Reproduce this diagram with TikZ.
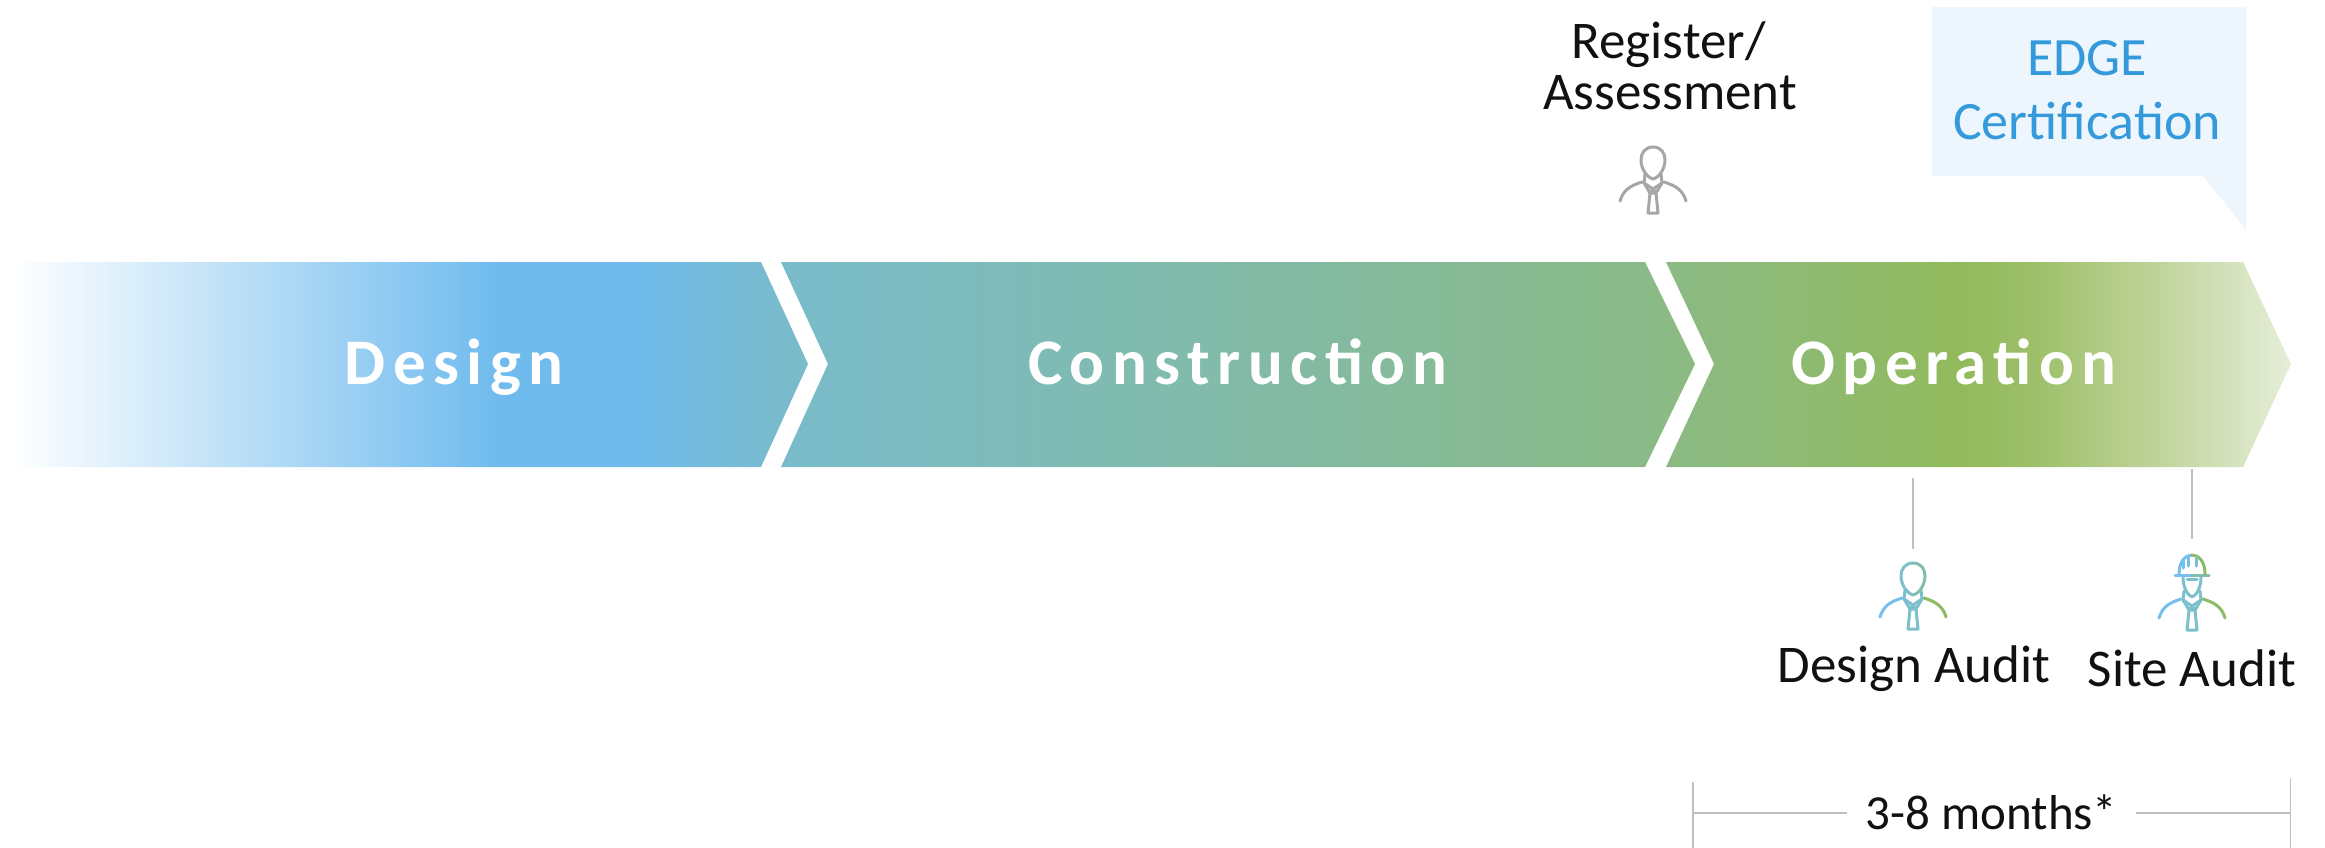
\documentclass[tikz,border=0pt]{standalone}
\usepackage{fontspec}
\setmainfont{Carlito}
\newfontfamily\bandfont[LetterSpace=11.5,Ligatures=Common]{Carlito}
\definecolor{calloutfill}{HTML}{EDF6FD}
\definecolor{calloutink}{HTML}{349ADB}
\definecolor{rulegray}{HTML}{BFBFBF}
\definecolor{inkc}{HTML}{111111}
\definecolor{iblue}{HTML}{74BFEE}
\definecolor{iteal}{HTML}{7CC0CC}
\definecolor{igreen}{HTML}{8CBB64}
\definecolor{igray}{HTML}{A6A6A6}
\definecolor{g0}{HTML}{FFFFFF}
\definecolor{g1}{HTML}{6FBBEE}
\definecolor{g2}{HTML}{7ABBC9}
\definecolor{g3}{HTML}{8ABA88}
\definecolor{g4}{HTML}{92BA5C}
\definecolor{g5}{HTML}{9CBF68}
\definecolor{g6}{HTML}{BDD296}
\definecolor{g7}{HTML}{E6EED8}
\pgfdeclarehorizontalshading{bandshade}{100bp}{
  color(0bp)=(g0);
  color(25bp)=(g0);
  color(35.76bp)=(g1);
  color(38.39bp)=(g1);
  color(42.33bp)=(g2);
  color(60.74bp)=(g3);
  color(67.75bp)=(g4);
  color(69.28bp)=(g5);
  color(71.9bp)=(g6);
  color(75bp)=(g7);
  color(100bp)=(g7)
}
\tikzset{
  bandlabel/.style={anchor=base,inner sep=0pt,text=white,font=\bandfont\bfseries\fontsize{65}{70}\selectfont},
  blacklabel/.style={anchor=base,inner sep=0pt,text=inkc,font=\fontsize{53}{60}\selectfont},
  durlabel/.style={anchor=center,inner sep=0pt,text=inkc,font=\fontsize{49}{60}\selectfont},
  bluelabel/.style={anchor=base,inner sep=0pt,text=calloutink,font=\fontsize{54}{60}\selectfont},
  rule/.style={draw=rulegray,line width=2.5pt},
  thinrule/.style={draw=rulegray,line width=1.6pt},
  iconline/.style={line width=3pt,line cap=round,line join=round}
}
% #1,#2 position of head top, #3 left colour, #4 middle colour, #5 right colour
\newcommand{\iconbody}[5]{%
  \begin{scope}[shift={(#1,#2)},iconline]
    \draw[#3] (-33,54) .. controls (-30,44) and (-24,39) .. (-11,35);
    \draw[#5] (33,54) .. controls (30,44) and (24,39) .. (11,35);
    \draw[#4] (-8,27) -- (-9,36) -- (-3,46) -- (0,42) -- (3,46) -- (9,36) -- (8,27);
    \draw[#4] (-3,46) -- (-5,66) -- (5,66) -- (3,46) -- cycle;
    \draw[#4] (-9,36) -- (0,42) -- (9,36);
  \end{scope}}
\newcommand{\iconhead}[5]{%
  \begin{scope}[shift={(#1,#2)},iconline]
    \draw[#3] (0,0) .. controls (-8,0) and (-12,6) .. (-12,13) .. controls (-12,21) and (-7,30) .. (0,32);
    \draw[#5] (0,0) .. controls (8,0) and (12,6) .. (12,13) .. controls (12,21) and (7,30) .. (0,32);
  \end{scope}}
\begin{document}
\begin{tikzpicture}[x=1pt,y=-1pt]
\useasboundingbox (0,0) rectangle (2325,848);
% callout
\fill[calloutfill] (1932,7) -- (2246,7) -- (2246,230) -- (2203,176) -- (1932,176) -- cycle;
\node[bluelabel] (edge) at (2087,75.5) {EDGE};
\node[bluelabel] (cert) at (2087,139.5) {Certification};
% top labels
\node[blacklabel] (reg) at (1668.5,59) {Register/};
\node[blacklabel] (ass) at (1670,110) {Assessment};
% band
\shade[shading=bandshade]
  (9,262) -- (761,262) -- (808,364) -- (761,467) -- (9,467) -- cycle
  (781,262) -- (1645,262) -- (1695,364) -- (1645,467) -- (781,467) -- (828,364) -- cycle
  (1666,262) -- (2243,262) -- (2291,364) -- (2243,467) -- (1666,467) -- (1714,364) -- cycle;
\node[bandlabel] (design) at (454,384) {Design};
\node[bandlabel] (constr) at (1238,384) {Construction};
\node[bandlabel] (oper) at (1954,384) {Operation};
% icons
\iconbody{1653}{147}{igray}{igray}{igray}
\iconhead{1653}{147}{igray}{igray}{igray}
\iconbody{1913}{563}{iblue}{iteal}{igreen}
\iconhead{1913}{563}{iteal}{iteal}{iteal!70!igreen}
\iconbody{2192}{564}{iblue}{iteal}{igreen}
\begin{scope}[shift={(2192,554)},iconline]
  \draw[iteal] (-9,23) .. controls (-9,33) and (-5,41) .. (0,43) .. controls (5,41) and (9,33) .. (9,23);
  \draw[iblue] (-17,21) -- (0,21);
  \draw[iteal!70!igreen] (0,21) -- (17,21);
  \draw[iblue] (-13,20) .. controls (-13,8) and (-7,1) .. (0,1);
  \draw[igreen] (13,20) .. controls (13,8) and (7,1) .. (0,1);
  \draw[iblue] (-4,3) -- (-4,12);
  \draw[iblue] (-9,6) -- (-9,14);
  \draw[iteal] (4,3) -- (4,12);
  \draw[iteal] (-5,25) -- (5,25);
\end{scope}
% audit labels
\node[blacklabel] (da) at (1914,682) {Design Audit};
\node[blacklabel] (sa) at (2192,686) {Site Audit};
% connectors
\coordinate (v1a) at (1913,478);
\coordinate (v1b) at (1913,549);
\coordinate (v2a) at (2192,469);
\coordinate (v2b) at (2192,539);
\draw[rule] (v1a) -- (v1b);
\draw[rule] (v2a) -- (v2b);
% duration
\coordinate (la) at (1693,782);
\coordinate (lb) at (1693,848);
\coordinate (ra) at (2290.5,778);
\coordinate (rb) at (2290.5,848);
\draw[thinrule] (la) -- (lb);
\draw[thinrule] (ra) -- (rb);
\node[durlabel,minimum width=289pt,minimum height=50pt] (dur) at (1991.5,812) {3-8 months*};
\coordinate (lm) at (1693,813);
\coordinate (rm) at (2290.5,813);
\draw[rule] (lm) -- (lm-|dur.west);
\draw[rule] (rm-|dur.east) -- (rm);
\end{tikzpicture}
\end{document}
